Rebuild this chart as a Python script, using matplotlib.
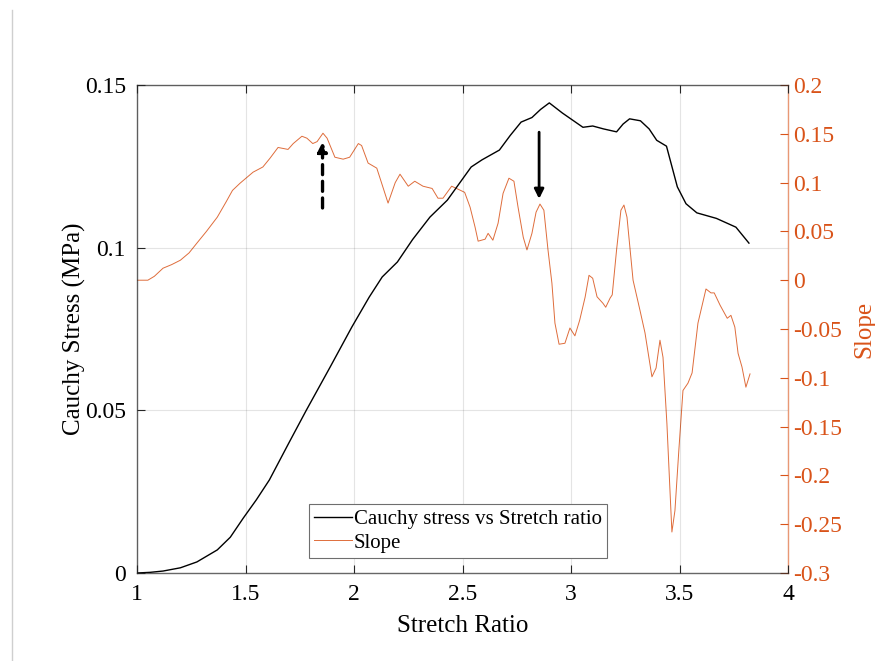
import matplotlib
matplotlib.use("Agg")
import matplotlib.pyplot as plt
from matplotlib.lines import Line2D

plt.rcParams['font.family'] = ['Liberation Serif', 'DejaVu Serif']

# Cauchy stress vs stretch ratio
stretch = [1.00, 1.06, 1.12, 1.20, 1.276, 1.37, 1.43, 1.49, 1.55, 1.61, 1.70,
           1.78, 1.89, 1.99, 2.07, 2.13, 2.20, 2.27, 2.35, 2.43, 2.54, 2.59,
           2.67, 2.72, 2.77, 2.82, 2.86, 2.90, 2.96, 3.055, 3.10, 3.15, 3.21,
           3.24, 3.27, 3.32, 3.36, 3.395, 3.44, 3.49, 3.53, 3.58, 3.67, 3.76,
           3.82]
stress = [0.0, 0.0002, 0.0006, 0.0016, 0.0034, 0.0071, 0.0110, 0.0169,
          0.0225, 0.0286, 0.040, 0.050, 0.0633, 0.0756, 0.0848, 0.091,
          0.0956, 0.1025, 0.1094, 0.1146, 0.1248, 0.127, 0.130, 0.1345,
          0.1386, 0.140, 0.1425, 0.1445, 0.1414, 0.137, 0.1374, 0.1365,
          0.1356, 0.1380, 0.1396, 0.139, 0.1365, 0.133, 0.1312, 0.1187,
          0.1135, 0.1107, 0.109, 0.1063, 0.1014]

# Slope of the stress curve
slope_x = [1.00, 1.05, 1.08, 1.12, 1.16, 1.20, 1.24, 1.276, 1.32, 1.37, 1.41,
           1.44, 1.475, 1.535, 1.58, 1.613, 1.65, 1.696, 1.72, 1.76, 1.783,
           1.81, 1.83, 1.857, 1.876, 1.912, 1.95, 1.98, 2.02, 2.035, 2.065,
           2.105, 2.12, 2.157, 2.19, 2.212, 2.25, 2.28, 2.318, 2.36, 2.387,
           2.41, 2.45, 2.48, 2.51, 2.535, 2.558, 2.572, 2.604, 2.618, 2.64,
           2.664, 2.687, 2.714, 2.737, 2.756, 2.78, 2.797, 2.82, 2.839,
           2.857, 2.875, 2.894, 2.912, 2.926, 2.945, 2.972, 2.995, 3.018,
           3.04, 3.065, 3.083, 3.10, 3.12, 3.147, 3.16, 3.18, 3.19, 3.21,
           3.23, 3.244, 3.258, 3.286, 3.318, 3.341, 3.373, 3.392, 3.41,
           3.424, 3.442, 3.456, 3.465, 3.479, 3.497, 3.516, 3.539, 3.558,
           3.585, 3.622, 3.645, 3.66, 3.687, 3.72, 3.737, 3.755, 3.77,
           3.788, 3.806, 3.825]
slope = [0.0, 0.0, 0.004, 0.0123, 0.016, 0.0205, 0.028, 0.038, 0.050,
         0.0646, 0.080, 0.092, 0.0994, 0.1107, 0.116, 0.125, 0.136, 0.134,
         0.140, 0.1475, 0.1455, 0.140, 0.142, 0.1506, 0.1455, 0.126, 0.124,
         0.126, 0.140, 0.138, 0.120, 0.1148, 0.1045, 0.079, 0.100, 0.1086,
         0.0963, 0.1014, 0.0963, 0.094, 0.084, 0.084, 0.0963, 0.0932, 0.090,
         0.0748, 0.0543, 0.040, 0.042, 0.048, 0.041, 0.0584, 0.089, 0.1045,
         0.1014, 0.0748, 0.044, 0.031, 0.048, 0.0697, 0.078, 0.0717, 0.031,
         -0.003, -0.044, -0.0656, -0.0646, -0.049, -0.057, -0.041, -0.0174,
         0.005, 0.002, -0.017, -0.0236, -0.0277, -0.0184, -0.015, 0.031,
         0.0717, 0.077, 0.0646, 0.0, -0.031, -0.054, -0.099, -0.090,
         -0.0615, -0.079, -0.147, -0.215, -0.258, -0.236, -0.174, -0.113,
         -0.1055, -0.095, -0.044, -0.009, -0.013, -0.013, -0.0256, -0.039,
         -0.036, -0.048, -0.075, -0.089, -0.1096, -0.096]

x_ticks = [1, 1.5, 2, 2.5, 3, 3.5, 4]
x_labels = ['1', '1.5', '2', '2.5', '3', '3.5', '4']
left_ticks = [0, 0.05, 0.1, 0.15]
left_labels = ['0', '0.05', '0.1', '0.15']
right_ticks = [-0.3, -0.25, -0.2, -0.15, -0.1, -0.05, 0, 0.05, 0.1, 0.15, 0.2]
right_labels = ['-0.3', '-0.25', '-0.2', '-0.15', '-0.1', '-0.05', '0',
                '0.05', '0.1', '0.15', '0.2']

orange = '#D95319'
axis_grey = '#262626'

fig = plt.figure(figsize=(8.75, 6.61), dpi=100)
fig.add_artist(Line2D([12 / 875, 12 / 875], [0, 1 - 10 / 661],
                      color='#cfcfcf', lw=1.0, transform=fig.transFigure))

ax = fig.add_axes([137 / 875, 1 - 573 / 661, 651 / 875, 488 / 661])
ax2 = ax.twinx()

# Slope on the right axis
ln2, = ax2.plot(slope_x, slope, color=orange, lw=0.7, alpha=0.85, label='Slope')
ax2.set_ylim(-0.3, 0.2)
ax2.set_yticks(right_ticks)
ax2.set_yticklabels(right_labels)
ax2.tick_params(axis='y', direction='in', colors=orange, labelsize=17,
                length=6, width=0.8, pad=4)
ax2.set_ylabel('Slope', color=orange, fontsize=18, labelpad=8)
for s in ['left', 'top', 'bottom']:
    ax2.spines[s].set_visible(False)
ax2.spines['right'].set_color(orange)
ax2.spines['right'].set_alpha(0.6)
ax2.spines['right'].set_linewidth(1.0)

# Stress on the left axis (drawn above the slope)
ax.set_zorder(ax2.get_zorder() + 1)
ax.patch.set_visible(False)
ln1, = ax.plot(stretch, stress, color='black', lw=1.0,
               label='Cauchy stress vs Stretch ratio')
ax.set_xlim(1, 4)
ax.set_ylim(0, 0.15)
ax.set_xticks(x_ticks)
ax.set_xticklabels(x_labels)
ax.set_yticks(left_ticks)
ax.set_yticklabels(left_labels)
ax.tick_params(axis='both', direction='in', colors=axis_grey, labelsize=17,
               length=6, width=0.8, top=True, labelcolor='black')
ax.tick_params(axis='y', right=False, pad=8)
ax.tick_params(axis='x', pad=8)
ax.grid(True, color='#262626', alpha=0.12, lw=0.8)
ax.set_xlabel('Stretch Ratio', fontsize=18, labelpad=7)
ax.set_ylabel('Cauchy Stress (MPa)', fontsize=18, labelpad=-1)
for s in ['left', 'top', 'bottom']:
    ax.spines[s].set_color(axis_grey)
    ax.spines[s].set_alpha(0.7)
    ax.spines[s].set_linewidth(1.0)
ax.spines['right'].set_visible(False)

# Markers of the two peaks
ax.annotate('', xy=(1.855, 0.1325), xytext=(1.855, 0.1122),
            arrowprops=dict(arrowstyle='-|>', color='black', lw=2.4,
                            linestyle=(0, (3, 2)), mutation_scale=14,
                            shrinkA=0, shrinkB=0))
ax.annotate('', xy=(2.853, 0.1150), xytext=(2.853, 0.1355),
            arrowprops=dict(arrowstyle='-|>', color='black', lw=2.0,
                            mutation_scale=14, shrinkA=0, shrinkB=0))

leg = ax.legend(handles=[ln1, ln2], loc='lower center',
                bbox_to_anchor=(0.493, 0.031), fontsize=15, frameon=True,
                fancybox=False, framealpha=1, edgecolor='#6e6e6e',
                handlelength=1.8, handletextpad=0.1, borderpad=0.25,
                labelspacing=0.2, borderaxespad=0)
leg.get_frame().set_linewidth(0.8)

fig.savefig('out.png', dpi=100)
